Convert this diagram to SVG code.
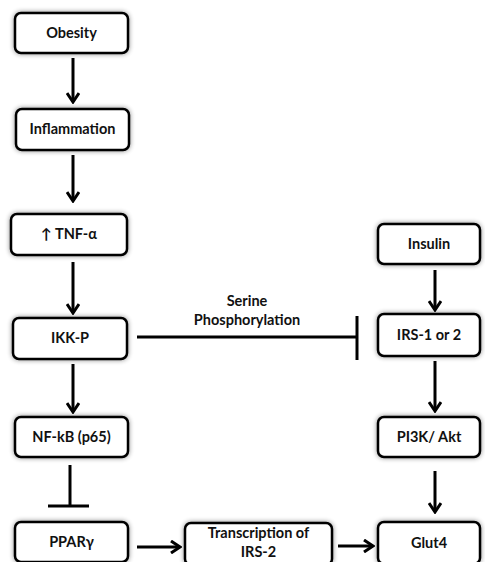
<svg xmlns="http://www.w3.org/2000/svg" width="485" height="562" viewBox="0 0 485 562">
<defs>
<filter id="glow" x="-20%" y="-30%" width="140%" height="160%">
<feGaussianBlur in="SourceAlpha" stdDeviation="2.5" result="b"/>
<feComponentTransfer in="b" result="c"><feFuncA type="linear" slope="0.45"/></feComponentTransfer>
<feMerge><feMergeNode in="c"/><feMergeNode in="SourceGraphic"/></feMerge>
</filter>
<marker id="ah" markerWidth="14" markerHeight="14" viewBox="0 0 14 14" refX="12" refY="7" orient="auto" markerUnits="userSpaceOnUse">
<path d="M3,1 L12,7 L3,13" fill="none" stroke="#000" stroke-width="3"/>
</marker>
</defs>
<style>
.box{fill:#fff;stroke:#000;stroke-width:2.5;filter:url(#glow)}
.lbl{font-family:Lato,"Liberation Sans",sans-serif;font-weight:bold;font-size:14.5px;text-anchor:middle;fill:#111}
.ln{stroke:#000;stroke-width:3;fill:none}
.arr{stroke:#000;stroke-width:3;fill:none;marker-end:url(#ah)}
</style>
<g id="obesity"><rect class="box" x="15" y="13" width="113" height="40" rx="6"/><text class="lbl" x="71.5" y="38">Obesity</text></g>
<g id="inflammation"><rect class="box" x="16" y="109" width="113" height="41" rx="6"/><text class="lbl" x="72.5" y="134">Inflammation</text></g>
<g id="tnf"><rect class="box" x="11" y="214" width="116" height="41" rx="6"/><text class="lbl" x="69" y="239">↑ TNF-α</text></g>
<g id="ikk"><rect class="box" x="13" y="318" width="114" height="41" rx="6"/><text class="lbl" x="70" y="343">IKK-P</text></g>
<g id="nfkb"><rect class="box" x="15" y="417" width="113" height="40" rx="6"/><text class="lbl" x="71.5" y="442">NF-kB (p65)</text></g>
<g id="ppar"><rect class="box" x="15" y="522" width="113" height="40" rx="6"/><text class="lbl" x="71.5" y="547">PPARγ</text></g>
<g id="transcription"><rect class="box" x="185" y="523" width="147" height="42" rx="6"/><text class="lbl" x="258.5" y="538">Transcription of</text><text class="lbl" x="258.5" y="557">IRS-2</text></g>
<g id="insulin"><rect class="box" x="378" y="224" width="102" height="40" rx="6"/><text class="lbl" x="429" y="249">Insulin</text></g>
<g id="irs"><rect class="box" x="378" y="314" width="102" height="42" rx="6"/><text class="lbl" x="429" y="340">IRS-1 or 2</text></g>
<g id="pi3k"><rect class="box" x="378" y="417" width="102" height="40" rx="6"/><text class="lbl" x="429" y="442">PI3K/ Akt</text></g>
<g id="glut4"><rect class="box" x="378" y="522" width="102" height="42" rx="6"/><text class="lbl" x="429" y="548">Glut4</text></g>
<g id="connectors">
<line class="arr" x1="73" y1="58" x2="73" y2="102"/>
<line class="arr" x1="73" y1="155" x2="73" y2="201"/>
<line class="arr" x1="73" y1="262" x2="73" y2="313"/>
<line class="arr" x1="73" y1="364" x2="73" y2="412"/>
<line class="ln" x1="70" y1="465" x2="70" y2="506"/>
<line class="ln" x1="48" y1="506" x2="89" y2="506"/>
<line class="ln" x1="137" y1="337" x2="357" y2="337"/>
<line class="ln" x1="357" y1="316" x2="357" y2="360"/>
<text class="lbl" x="247" y="306">Serine</text>
<text class="lbl" x="247" y="325">Phosphorylation</text>
<line class="arr" x1="435" y1="270" x2="435" y2="310"/>
<line class="arr" x1="435" y1="361" x2="435" y2="411"/>
<line class="arr" x1="435" y1="471" x2="435" y2="512"/>
<line class="arr" x1="137" y1="547" x2="180" y2="547"/>
<line class="arr" x1="338" y1="546" x2="373" y2="546"/>
</g>
</svg>
